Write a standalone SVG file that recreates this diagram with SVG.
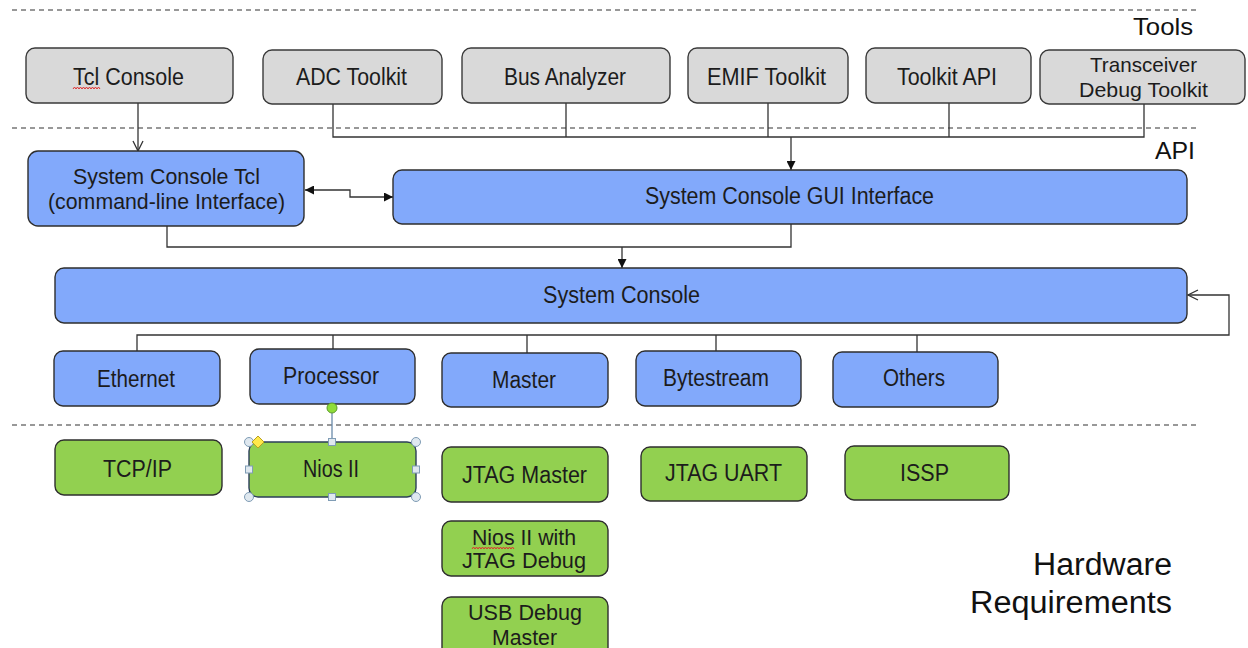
<svg xmlns="http://www.w3.org/2000/svg" width="1248" height="648" viewBox="0 0 1248 648">
<defs>
<style>
.gray{fill:#d9d9d9;stroke:#3a3a3a;stroke-width:1.4}
.blue{fill:#82a9fb;stroke:#2e2e2e;stroke-width:1.4}
.green{fill:#92d050;stroke:#2e2e2e;stroke-width:1.4}
.t{font-family:"Liberation Sans",Arial,sans-serif;font-size:23px;fill:#1c1c1c}
.t2{font-family:"Liberation Sans",Arial,sans-serif;font-size:22px;fill:#1c1c1c}
.t3{font-family:"Liberation Sans",Arial,sans-serif;font-size:21px;fill:#1c1c1c}
.big{font-family:"Liberation Sans",Arial,sans-serif;font-size:31px;fill:#111}
.lbl{font-family:"Liberation Sans",Arial,sans-serif;font-size:24px;fill:#111}
.dash{stroke:#333;stroke-width:1.2;stroke-dasharray:5 4;fill:none}
.c{fill:none;stroke:#333;stroke-width:1.3}
.sq{fill:none;stroke:#e03030;stroke-width:1}
.hc{fill:#dfe8ef;stroke:#7f9cb5;stroke-width:1}
</style>
<marker id="fa" viewBox="0 0 10 10" refX="10" refY="5" markerWidth="9" markerHeight="9" orient="auto-start-reverse" markerUnits="userSpaceOnUse"><path d="M0,0 L10,5 L0,10 z" fill="#111"/></marker>
<marker id="oa" viewBox="0 0 12 12" refX="11" refY="6" markerWidth="12" markerHeight="12" orient="auto" markerUnits="userSpaceOnUse"><path d="M1,1 L11,6 L1,11" fill="none" stroke="#333" stroke-width="1.3"/></marker>
</defs>
<rect width="1248" height="648" fill="#fff"/>

<g id="separators">
<line class="dash" x1="12" y1="10" x2="1196" y2="10"/>
<line class="dash" x1="12" y1="128" x2="1196" y2="128"/>
<line class="dash" x1="12" y1="425" x2="1196" y2="425"/>
<text class="lbl" x="1133" y="35" textLength="60" lengthAdjust="spacingAndGlyphs">Tools</text>
<text class="lbl" x="1155" y="159" textLength="40" lengthAdjust="spacingAndGlyphs">API</text>
<text class="big" x="1033" y="575" textLength="139" lengthAdjust="spacingAndGlyphs">Hardware</text>
<text class="big" x="970" y="613" textLength="202" lengthAdjust="spacingAndGlyphs">Requirements</text>
</g>

<g id="connectors">
<path class="c" d="M138,103 V151" marker-end="url(#oa)"/>
<path class="c" d="M333,104 V137 H1144 V104"/>
<path class="c" d="M566,103 V137 M768,103 V137 M949,103 V137"/>
<path class="c" d="M791,137 V170" marker-end="url(#fa)"/>
<path class="c" d="M305,190 H350 V197 H393" marker-start="url(#fa)" marker-end="url(#fa)"/>
<path class="c" d="M167,226 V247 H791 V224"/>
<path class="c" d="M622,247 V268" marker-end="url(#fa)"/>
<path class="c" d="M137,351 V335 H1229 V295 H1188" marker-end="url(#oa)"/>
<path class="c" d="M333,335 V349 M527,335 V353 M716,335 V351 M917,335 V352"/>
</g>

<g id="tcl-console"><rect class="gray" x="26" y="48" width="207" height="55" rx="9"/><text class="t" x="73" y="85" textLength="111" lengthAdjust="spacingAndGlyphs">Tcl Console</text><path class="sq" d="M73,89 l1.5,-2 l1.5,2 l1.5,-2 l1.5,2 l1.5,-2 l1.5,2 l1.5,-2 l1.5,2 l1.5,-2 l1.5,2 l1.5,-2 l1.5,2 l1.5,-2 l1.5,2 l1.5,-2 l1.5,2 l1.5,-2 l1.5,2"/></g>
<g id="adc-toolkit"><rect class="gray" x="263" y="50" width="179" height="54" rx="9"/><text class="t" x="296" y="85" textLength="111" lengthAdjust="spacingAndGlyphs">ADC Toolkit</text></g>
<g id="bus-analyzer"><rect class="gray" x="462" y="48" width="208" height="55" rx="9"/><text class="t" x="504" y="85" textLength="122" lengthAdjust="spacingAndGlyphs">Bus Analyzer</text></g>
<g id="emif-toolkit"><rect class="gray" x="688" y="48" width="160" height="55" rx="9"/><text class="t" x="707" y="85" textLength="119" lengthAdjust="spacingAndGlyphs">EMIF Toolkit</text></g>
<g id="toolkit-api"><rect class="gray" x="866" y="48" width="165" height="55" rx="9"/><text class="t" x="897" y="85" textLength="100" lengthAdjust="spacingAndGlyphs">Toolkit API</text></g>
<g id="transceiver-debug-toolkit"><rect class="gray" x="1040" y="50" width="205" height="54" rx="9"/><text class="t3" x="1090" y="72" textLength="107" lengthAdjust="spacingAndGlyphs">Transceiver</text><text class="t3" x="1079" y="97" textLength="129" lengthAdjust="spacingAndGlyphs">Debug Toolkit</text></g>

<g id="system-console-tcl"><rect class="blue" x="28" y="151" width="276" height="75" rx="10"/><text class="t2" x="73" y="184" textLength="187" lengthAdjust="spacingAndGlyphs">System Console Tcl</text><text class="t2" x="48" y="209" textLength="237" lengthAdjust="spacingAndGlyphs">(command-line Interface)</text></g>
<g id="gui-interface"><rect class="blue" x="393" y="170" width="794" height="54" rx="9"/><text class="t" x="645" y="204" textLength="289" lengthAdjust="spacingAndGlyphs">System Console GUI Interface</text></g>
<g id="system-console"><rect class="blue" x="55" y="268" width="1132" height="55" rx="9"/><text class="t" x="543" y="303" textLength="157" lengthAdjust="spacingAndGlyphs">System Console</text></g>

<g id="ethernet"><rect class="blue" x="54" y="351" width="166" height="55" rx="9"/><text class="t" x="97" y="387" textLength="78" lengthAdjust="spacingAndGlyphs">Ethernet</text></g>
<g id="processor"><rect class="blue" x="250" y="349" width="165" height="55" rx="9"/><text class="t" x="283" y="384" textLength="96" lengthAdjust="spacingAndGlyphs">Processor</text></g>
<g id="master"><rect class="blue" x="442" y="353" width="166" height="54" rx="9"/><text class="t" x="492" y="388" textLength="64" lengthAdjust="spacingAndGlyphs">Master</text></g>
<g id="bytestream"><rect class="blue" x="636" y="351" width="165" height="55" rx="9"/><text class="t" x="663" y="386" textLength="106" lengthAdjust="spacingAndGlyphs">Bytestream</text></g>
<g id="others"><rect class="blue" x="833" y="352" width="165" height="55" rx="9"/><text class="t" x="883" y="386" textLength="62" lengthAdjust="spacingAndGlyphs">Others</text></g>

<g id="tcp-ip"><rect class="green" x="55" y="440" width="167" height="55" rx="9"/><text class="t" x="103" y="477" textLength="69" lengthAdjust="spacingAndGlyphs">TCP/IP</text></g>
<g id="nios-ii">
<line x1="332" y1="413" x2="332" y2="442" stroke="#6a8aaa" stroke-width="1.3"/>
<circle cx="332" cy="408" r="5" fill="#8fdc3a" stroke="#5b9a2a" stroke-width="1"/>
<rect class="green" x="249" y="442" width="167" height="55" rx="9" style="stroke:#2b3e5a"/>
<text class="t" x="303" y="477" textLength="56" lengthAdjust="spacingAndGlyphs">Nios II</text>
<circle class="hc" cx="249" cy="442" r="4.5"/><circle class="hc" cx="416" cy="442" r="4.5"/><circle class="hc" cx="249" cy="497" r="4.5"/><circle class="hc" cx="416" cy="497" r="4.5"/>
<rect class="hc" x="328.5" y="438.5" width="7" height="7"/><rect class="hc" x="328.5" y="493.5" width="7" height="7"/><rect class="hc" x="245.5" y="466" width="7" height="7"/><rect class="hc" x="412.5" y="466" width="7" height="7"/>
<polygon points="258,436 264,442 258,448 252,442" fill="#ffe84a" stroke="#b8a020" stroke-width="1"/>
</g>
<g id="jtag-master"><rect class="green" x="442" y="447" width="166" height="55" rx="9"/><text class="t" x="462" y="483" textLength="125" lengthAdjust="spacingAndGlyphs">JTAG Master</text></g>
<g id="jtag-uart"><rect class="green" x="641" y="447" width="166" height="54" rx="9"/><text class="t" x="665" y="481" textLength="117" lengthAdjust="spacingAndGlyphs">JTAG UART</text></g>
<g id="issp"><rect class="green" x="845" y="446" width="164" height="54" rx="9"/><text class="t" x="900" y="481" textLength="49" lengthAdjust="spacingAndGlyphs">ISSP</text></g>
<g id="nios-ii-jtag-debug"><rect class="green" x="442" y="521" width="166" height="55" rx="9"/><text class="t2" x="472" y="545" textLength="104" lengthAdjust="spacingAndGlyphs">Nios II  with</text><text class="t2" x="462" y="568" textLength="124" lengthAdjust="spacingAndGlyphs">JTAG Debug</text><path class="sq" d="M472,549 l1.5,-2 l1.5,2 l1.5,-2 l1.5,2 l1.5,-2 l1.5,2 l1.5,-2 l1.5,2 l1.5,-2 l1.5,2 l1.5,-2 l1.5,2 l1.5,-2 l1.5,2 l1.5,-2 l1.5,2 l1.5,-2 l1.5,2 l1.5,-2 l1.5,2 l1.5,-2 l1.5,2 l1.5,-2 l1.5,2 l1.5,-2 l1.5,2 l1.5,-2 l1.5,2"/></g>
<g id="usb-debug-master"><rect class="green" x="442" y="597" width="166" height="60" rx="9"/><text class="t2" x="468" y="620" textLength="114" lengthAdjust="spacingAndGlyphs">USB Debug</text><text class="t2" x="492" y="645" textLength="65" lengthAdjust="spacingAndGlyphs">Master</text></g>
</svg>
